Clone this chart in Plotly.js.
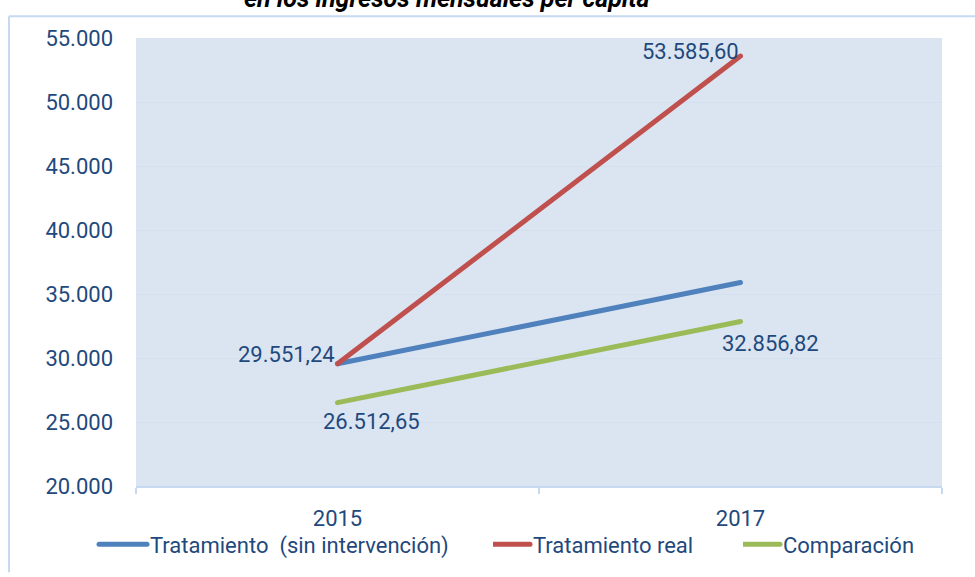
<!DOCTYPE html>
<html>
<head>
<meta charset="utf-8">
<script src="https://cdn.plot.ly/plotly-3.0.1.min.js"></script>
<style>
html,body{margin:0;padding:0;background:#fff;}
#chart{width:975px;height:577px;}
.js-line{stroke-linecap:round !important;}
.legend .scrollbox{clip-path:none !important;}
.legendlines path{stroke-linecap:round !important; d: path("M-11,0h48") !important;}
</style>
</head>
<body>
<div id="chart"></div>
<script>
const years = ['2015', '2017'];
const seriesNames = ['Tratamiento  (sin intervención)', 'Tratamiento real', 'Comparación'];
const sinIntervencion = [29551.24, 35900];
const tratamientoReal = [29551.24, 53585.60];
const comparacion = [26512.65, 32856.82];
const colors = ['#4f81bd', '#c0504d', '#9bbb59'];
const yTicks = [20000, 25000, 30000, 35000, 40000, 45000, 50000, 55000];
const yTickLabels = ['20.000', '25.000', '30.000', '35.000', '40.000', '45.000', '50.000', '55.000'];
const titleText = 'en los ingresos mensuales per capita';

const FONT = 'Roboto, "Liberation Sans", sans-serif';
const TXT = '#1f497d';

function fmt(v) {
  const parts = v.toFixed(2).split('.');
  const intPart = parts[0].replace(/\B(?=(\d{3})+(?!\d))/g, '.');
  return intPart + ',' + parts[1];
}

const allSeries = [sinIntervencion, tratamientoReal, comparacion];
const legendIds = ['legend', 'legend2', 'legend3'];
const traces = allSeries.map((vals, i) => ({
  type: 'scatter', mode: 'lines', x: years, y: vals, name: seriesNames[i],
  legend: legendIds[i],
  line: {color: colors[i], width: 5}, hoverinfo: 'skip'
}));

// data labels: which points are labelled, and their offsets
const labels = [
  {xi: 0, y: tratamientoReal[0], xanchor: 'right', xshift: -1, yshift: 9},
  {xi: 0, y: comparacion[0], xanchor: 'center', xshift: 34, yshift: -19},
  {xi: 1, y: comparacion[1], xanchor: 'center', xshift: 30, yshift: -22},
  {xi: 1, y: tratamientoReal[1], xanchor: 'right', xshift: 0, yshift: 5}
];
const annotations = labels.map(l => ({
  x: l.xi, y: l.y, xref: 'x', yref: 'y', text: fmt(l.y), showarrow: false,
  xanchor: l.xanchor, yanchor: 'middle', xshift: l.xshift, yshift: l.yshift,
  font: {family: FONT, size: 22, color: TXT}
}));
annotations.push({
  xref: 'paper', yref: 'paper', x: (446 - 136) / 806, y: (490 + 2) / 452,
  text: '<b><i>' + titleText + '</i></b>',
  showarrow: false, xanchor: 'center', yanchor: 'middle',
  font: {family: FONT, size: 25, color: '#000'}
});

const legStyle = {orientation: 'h', xanchor: 'left', yanchor: 'middle', y: (490 - 549) / 452,
  font: {family: FONT, size: 22, color: TXT}, bgcolor: 'rgba(0,0,0,0)', borderwidth: 0};
const legendX = [110, 493, 743];

const layout = {
  width: 975, height: 577,
  margin: {l: 136, r: 33, t: 38, b: 87},
  paper_bgcolor: '#ffffff', plot_bgcolor: '#dbe5f1',
  showlegend: true,
  legend: Object.assign({}, legStyle, {x: (legendX[0] - 136) / 806}),
  legend2: Object.assign({}, legStyle, {x: (legendX[1] - 136) / 806}),
  legend3: Object.assign({}, legStyle, {x: (legendX[2] - 136) / 806}),
  xaxis: {type: 'category', range: [-0.5, 1.5], tickson: 'boundaries', ticks: 'outside', ticklen: 6, tickwidth: 2,
    tickcolor: '#c6d9f1', showline: true, linecolor: '#c6d9f1', linewidth: 1.5,
    showgrid: false, zeroline: false, ticklabelstandoff: 12, tickangle: 0,
    tickfont: {family: FONT, size: 22, color: TXT}, fixedrange: true},
  yaxis: {range: [20000, 55000], tickvals: yTicks, ticktext: yTickLabels,
    showgrid: true, gridcolor: '#d3e0f0', gridwidth: 1, zeroline: false, showline: false,
    ticks: '', ticklabelstandoff: 22,
    tickfont: {family: FONT, size: 22, color: TXT}, fixedrange: true},
  annotations: annotations,
  shapes: [
    {type: 'line', xref: 'paper', yref: 'paper', x0: (9 - 136) / 806, x1: (975 - 136) / 806,
      y0: (490 - 16) / 452, y1: (490 - 16) / 452, line: {color: '#c6d9f1', width: 2}},
    {type: 'line', xref: 'paper', yref: 'paper', x0: (9 - 136) / 806, x1: (9 - 136) / 806,
      y0: (490 - 16) / 452, y1: (490 - 577) / 452, line: {color: '#c6d9f1', width: 2}}
  ]
};

Plotly.newPlot('chart', traces, layout, {displayModeBar: false, staticPlot: true});
</script>
</body>
</html>
